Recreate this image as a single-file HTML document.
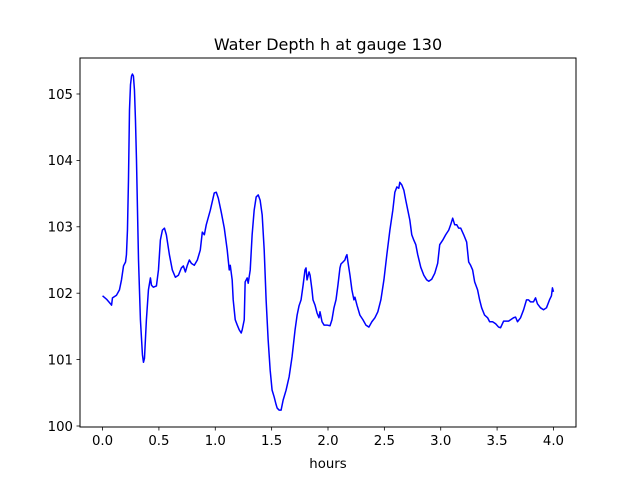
<!DOCTYPE html>
<html><head><meta charset="utf-8"><style>
html,body{margin:0;padding:0;background:#fff;width:640px;height:480px;overflow:hidden}
svg text{font-family:"DejaVu Sans","Liberation Sans",sans-serif;fill:#000}
</style></head><body>
<svg id="chart" width="640" height="480" viewBox="0 0 640 480" xmlns="http://www.w3.org/2000/svg">
<rect width="640" height="480" fill="#fff"/>
<text x="328" y="50" font-size="16" text-anchor="middle">Water Depth h at gauge 130</text>
<text x="328" y="468" font-size="13.3" text-anchor="middle">hours</text>
<g id="plot"></g>
</svg>
<script>
const hours=[0,.035,.071,.080,.088,.124,.150,.168,.186,.204,.212,.221,.230,.239,.248,.257,.265,.274,.283,.292,.301,.310,.319,.336,.354,.363,.372,.389,.407,.425,.434,.451,.478,.496,.513,.531,.549,.566,.593,.619,.646,.673,.699,.717,.735,.752,.770,.788,.814,.841,.867,.885,.903,.920,.956,.991,1.009,1.027,1.053,1.080,1.106,1.124,1.133,1.150,1.159,1.177,1.195,1.212,1.230,1.239,1.257,1.265,1.283,1.292,1.310,1.327,1.345,1.363,1.381,1.398,1.416,1.434,1.451,1.469,1.487,1.504,1.522,1.540,1.549,1.566,1.584,1.602,1.628,1.655,1.681,1.708,1.726,1.743,1.761,1.779,1.796,1.805,1.814,1.832,1.841,1.858,1.867,1.885,1.903,1.920,1.929,1.947,1.965,1.991,2.018,2.035,2.053,2.071,2.088,2.106,2.115,2.133,2.150,2.159,2.168,2.177,2.195,2.212,2.230,2.239,2.257,2.283,2.310,2.336,2.363,2.389,2.416,2.442,2.469,2.496,2.522,2.549,2.575,2.593,2.611,2.628,2.637,2.655,2.673,2.690,2.708,2.726,2.743,2.761,2.779,2.796,2.823,2.850,2.876,2.894,2.920,2.947,2.973,2.991,3.018,3.044,3.071,3.088,3.106,3.124,3.142,3.159,3.177,3.204,3.230,3.248,3.265,3.283,3.301,3.327,3.345,3.363,3.389,3.416,3.434,3.460,3.487,3.513,3.531,3.558,3.602,3.646,3.664,3.681,3.708,3.735,3.761,3.779,3.796,3.823,3.841,3.858,3.885,3.912,3.938,3.965,3.982,3.991,4.0];
const depth=[101.96,101.91,101.84,101.82,101.93,101.97,102.05,102.20,102.41,102.47,102.58,102.95,103.70,104.76,105.14,105.27,105.30,105.27,105.06,104.61,104.01,103.25,102.50,101.60,101.07,100.96,101.02,101.60,102.05,102.23,102.12,102.09,102.11,102.35,102.80,102.95,102.98,102.88,102.58,102.35,102.24,102.27,102.38,102.41,102.32,102.42,102.50,102.45,102.42,102.50,102.65,102.92,102.88,103.03,103.25,103.51,103.52,103.43,103.22,102.98,102.65,102.35,102.42,102.20,101.90,101.60,101.52,101.45,101.40,101.45,101.60,102.17,102.23,102.15,102.35,102.88,103.25,103.45,103.48,103.40,103.18,102.65,101.90,101.30,100.84,100.54,100.44,100.32,100.27,100.24,100.24,100.39,100.54,100.74,101.04,101.45,101.67,101.81,101.90,102.12,102.35,102.38,102.20,102.32,102.27,102.05,101.90,101.82,101.70,101.63,101.72,101.57,101.52,101.52,101.51,101.60,101.78,101.90,102.12,102.38,102.44,102.47,102.50,102.55,102.58,102.47,102.27,102.05,101.90,101.94,101.82,101.67,101.60,101.52,101.49,101.57,101.63,101.72,101.90,102.20,102.58,102.95,103.25,103.52,103.60,103.58,103.67,103.63,103.55,103.40,103.25,103.10,102.88,102.80,102.73,102.58,102.39,102.27,102.20,102.18,102.21,102.30,102.45,102.73,102.80,102.88,102.95,103.03,103.13,103.03,103.03,102.98,102.98,102.88,102.77,102.47,102.42,102.35,102.17,102.05,101.90,101.78,101.67,101.63,101.57,101.57,101.54,101.49,101.48,101.58,101.58,101.63,101.64,101.57,101.63,101.75,101.90,101.90,101.87,101.87,101.93,101.84,101.78,101.75,101.78,101.90,101.96,102.08,102.02];
const xTicks=[0,0.5,1,1.5,2,2.5,3,3.5,4];
const xTickLabels=["0.0","0.5","1.0","1.5","2.0","2.5","3.0","3.5","4.0"];
const yTicks=[100,101,102,103,104,105];
const yTickLabels=["100","101","102","103","104","105"];

const L=80,R=576,T=58,B=427;
const xMin=-0.2,xMax=4.2,yMin=99.985,yMax=105.542;
const sx=v=>L+(v-xMin)/(xMax-xMin)*(R-L);
const sy=v=>B-(v-yMin)/(yMax-yMin)*(B-T);
const NS="http://www.w3.org/2000/svg";
const g=document.getElementById('plot');
function mk(tag,attrs){const e=document.createElementNS(NS,tag);for(const k in attrs)e.setAttribute(k,attrs[k]);g.appendChild(e);return e;}

let d='';
hours.forEach((t,i)=>{d+=(i?'L':'M')+sx(t).toFixed(2)+' '+sy(depth[i]).toFixed(2);});
const line=mk('path',{d:d,fill:'none',stroke:'#0000ff','stroke-width':'1.5','stroke-linejoin':'round'});



const frame=mk('rect',{x:L,y:T,width:R-L,height:B-T,fill:'none',stroke:'#000','stroke-width':'1'});



xTicks.forEach((v,i)=>{
  const x=sx(v);
  const tk=mk('line',{x1:x,x2:x,y1:B,y2:B+3.5,stroke:'#000','stroke-width':'0.8'});
  
  
  const tx=mk('text',{x:x,y:B+18,'font-size':'13.3','text-anchor':'middle'});
  tx.textContent=xTickLabels[i];
  
  
});
yTicks.forEach((v,i)=>{
  const y=sy(v);
  const tk=mk('line',{x1:L-3.5,x2:L,y1:y,y2:y,stroke:'#000','stroke-width':'0.8'});
  
  
  const tx=mk('text',{x:L-7,y:y+4.8,'font-size':'13.3','text-anchor':'end'});
  tx.textContent=yTickLabels[i];
  
  
});
</script>
</body></html>
